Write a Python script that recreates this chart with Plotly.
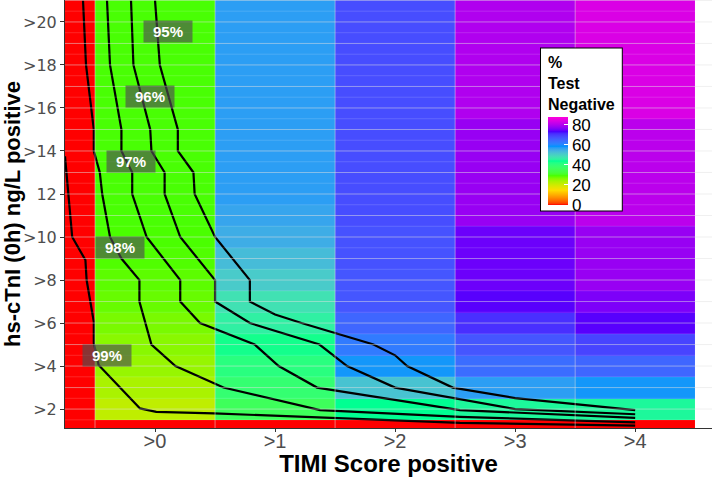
import plotly.graph_objects as go

# ---------------- data ----------------
timi = [-1, 0, 1, 2, 3, 4]
timi_labels = [">0", ">1", ">2", ">3", ">4"]
tni = list(range(1, 22))
tni_ticks = [2, 4, 6, 8, 10, 12, 14, 16, 18, 20]
tni_labels = [">2", ">4", ">6", ">8", ">10", "12", ">14", ">16", ">18", ">20"]

# % test negative, one list per TIMI column, rows hs-cTnI 1..21
neg_m1 = [0] * 21
neg_0 = [0, 21.5, 23.5, 25, 26, 27, 28, 28.5, 29, 29.3, 29.5, 29.5, 29.5, 29.5, 29.5, 29.5, 29.5, 29.5, 29.5, 29.5, 29.5]
neg_1 = [0, 36, 39, 41, 43, 46, 48, 51, 53, 55, 56, 57, 57, 57, 57, 57, 57, 57, 57, 57, 57]
neg_2 = [0, 44, 52, 58, 62, 65, 67, 67, 67.5, 67.5, 68, 68, 68, 68, 68, 68, 68, 68, 68, 68, 68]
neg_3 = [0, 45, 57, 64, 67, 71, 74, 75, 75, 75, 78, 78, 78, 78, 78, 80, 80, 80, 80, 80, 80]
neg_4 = [0, 45, 58, 65, 69, 74, 76, 78, 78, 78, 81, 81, 81, 81, 81, 84, 84, 84, 84, 84, 84]

# contour lines (sensitivity levels), vertices in data units
c95_x = [0.0, 0.04, 0.19, 0.19, 0.32, 0.33, 0.5, 0.79, 0.79, 1.0, 1.22, 1.82, 2.0, 2.1, 2.48, 3.0, 4.0]
c95_y = [21, 18, 15, 14, 13, 12, 10, 8, 7, 6.4, 6, 5, 4.5, 4, 3, 2.51, 1.95]
c96_x = [-0.2, -0.18, -0.04, -0.03, 0.08, 0.08, 0.21, 0.5, 0.5, 0.79, 1.37, 1.6, 2.0, 3.0, 4.0]
c96_y = [21, 18, 15, 14, 13, 12, 10, 8, 7, 6, 5, 4, 3, 2, 1.76]
c97_x = [-0.4, -0.375, -0.28, -0.28, -0.19, -0.19, -0.07, 0.07, 0.21, 0.21, 0.375, 0.83, 1.03, 1.35, 2.54, 4.0]
c97_y = [21, 18, 15, 14, 13, 12, 10, 9, 8, 7, 6, 5, 4, 3, 1.95, 1.59]
c98_x = [-0.6, -0.575, -0.51, -0.51, -0.46, -0.44, -0.375, -0.28, -0.13, -0.13, -0.03, 0.17, 0.57, 1.375, 2.54, 4.0]
c98_y = [21, 18, 15, 14, 13, 12, 10, 9, 8, 7, 5, 4, 3, 1.95, 1.64, 1.38]
c99_x = [-0.75, -0.72, -0.69, -0.58, -0.57, -0.51, -0.51, -0.47, -0.125, 0.01, 0.49, 2.54, 4.0]
c99_y = [13.75, 11.72, 10.0, 8.93, 8.0, 6.06, 5.06, 4.05, 2.03, 1.87, 1.8, 1.36, 1.23]

label_text = ["95%", "96%", "97%", "98%", "99%"]
label_x = [0.104, -0.046, -0.197, -0.296, -0.4]
label_y = [19.55, 16.54, 13.53, 9.51, 4.5]

# ---------------- colour scale (R rainbow(7), Lab interpolation as in ggplot) ----------------
anchors = ["#FF0000", "#FFDB00", "#49FF00", "#00FF92", "#0092FF", "#4900FF", "#FF00DB"]


def _lin(c):
    return c / 12.92 if c <= 0.04045 else ((c + 0.055) / 1.055) ** 2.4


def _gam(c):
    c = min(max(c, 0.0), 1.0)
    return 12.92 * c if c <= 0.0031308 else 1.055 * c ** (1 / 2.4) - 0.055


WX, WY, WZ = 0.95047, 1.0, 1.08883


def hex2lab(h):
    r, g, b = [_lin(int(h[i:i + 2], 16) / 255) for i in (1, 3, 5)]
    X = 0.4124 * r + 0.3576 * g + 0.1805 * b
    Y = 0.2126 * r + 0.7152 * g + 0.0722 * b
    Z = 0.0193 * r + 0.1192 * g + 0.9505 * b

    def f(t):
        return t ** (1 / 3) if t > 0.008856 else 7.787 * t + 16 / 116
    fx, fy, fz = f(X / WX), f(Y / WY), f(Z / WZ)
    return (116 * fy - 16, 500 * (fx - fy), 200 * (fy - fz))


def lab2rgb(L, a, b):
    fy = (L + 16) / 116
    fx = fy + a / 500
    fz = fy - b / 200

    def finv(t):
        return t ** 3 if t ** 3 > 0.008856 else (t - 16 / 116) / 7.787
    X, Y, Z = WX * finv(fx), WY * finv(fy), WZ * finv(fz)
    r = 3.2406 * X - 1.5372 * Y - 0.4986 * Z
    g = -0.9689 * X + 1.8758 * Y + 0.0415 * Z
    bb = 0.0557 * X - 0.2040 * Y + 1.0570 * Z
    return "rgb(%d,%d,%d)" % tuple(round(_gam(v) * 255) for v in (r, g, bb))


labs = [hex2lab(h) for h in anchors]
colorscale = []
nstep = 60
for i in range(nstep + 1):
    t = i / nstep
    pos = t * (len(labs) - 1)
    k = min(int(pos), len(labs) - 2)
    u = pos - k
    L = labs[k][0] + (labs[k + 1][0] - labs[k][0]) * u
    A = labs[k][1] + (labs[k + 1][1] - labs[k][1]) * u
    B = labs[k][2] + (labs[k + 1][2] - labs[k][2]) * u
    colorscale.append([t, lab2rgb(L, A, B)])

# ---------------- figure ----------------
z = [list(r) for r in zip(neg_m1, neg_0, neg_1, neg_2, neg_3, neg_4)]

fig = go.Figure()
fig.add_trace(go.Heatmap(
    x=timi, y=tni, z=z, zmin=0, zmax=88, colorscale=colorscale,
    hoverinfo="skip",
    colorbar=dict(
        title=dict(text="<b>%<br>Test<br>Negative</b>", side="top",
                   font=dict(family="Liberation Sans, Arial", size=16, color="black")),
        tickvals=[0, 20, 40, 60, 80], ticks="inside", tickcolor="white", ticklen=4,
        tickfont=dict(family="Liberation Sans, Arial", size=17, color="black"),
        thickness=20, lenmode="pixels", len=162,
        x=0.7357, xanchor="left", y=0.888, yanchor="top",
        xpad=7, ypad=5, outlinewidth=0,
        bgcolor="white", bordercolor="black", borderwidth=1,
    ),
))

for xs, ys in [(c95_x, c95_y), (c96_x, c96_y), (c97_x, c97_y), (c98_x, c98_y), (c99_x, c99_y)]:
    fig.add_trace(go.Scatter(x=xs, y=ys, mode="lines", line=dict(color="black", width=2.2),
                             hoverinfo="skip", showlegend=False))

shapes = []
grid_col = "rgba(225,225,225,0.5)"
for yv in tni:
    shapes.append(dict(type="line", xref="paper", yref="y", x0=0, x1=1, y0=yv, y1=yv,
                       line=dict(color=grid_col, width=1), layer="above"))
for yv in tni:
    shapes.append(dict(type="line", xref="x", yref="y", x0=-0.75, x1=4.5, y0=yv + 0.5, y1=yv + 0.5,
                       line=dict(color="rgba(255,255,255,0.15)", width=1), layer="above"))
for xv in timi[:-1]:
    shapes.append(dict(type="line", xref="x", yref="paper", x0=xv + 0.5, x1=xv + 0.5, y0=0, y1=1,
                       line=dict(color=grid_col, width=1), layer="above"))

annotations = []
for t, xv, yv in zip(label_text, label_x, label_y):
    annotations.append(dict(x=xv, y=yv, xref="x", yref="y", text="<b>%s</b>" % t, showarrow=False,
                            font=dict(family="Liberation Sans, Arial", size=15, color="white"),
                            bgcolor="rgba(79,79,79,0.66)", width=46, height=19, borderpad=1))

fig.update_layout(
    width=714, height=477,
    margin=dict(l=65, r=2, t=0, b=49, autoexpand=False),
    plot_bgcolor="white", paper_bgcolor="white",
    shapes=shapes, annotations=annotations,
    showlegend=False,
    xaxis=dict(range=[-0.75, 4.64], tickvals=[0, 1, 2, 3, 4], ticktext=timi_labels,
               showgrid=False, zeroline=False, showline=True, linecolor="#333333", linewidth=1,
               ticks="outside", ticklen=3, tickcolor="#333333", automargin=False,
               ticklabelstandoff=-8,
               tickfont=dict(family="Liberation Sans, Arial", size=20, color="#4d4d4d"),
               title=dict(text="<b>TIMI Score positive</b>", standoff=6,
                          font=dict(family="Liberation Sans, Arial", size=24, color="black"))),
    yaxis=dict(range=[1.12, 21.02], tickvals=tni_ticks, ticktext=tni_labels,
               showgrid=False, zeroline=False, showline=True, linecolor="#333333", linewidth=1,
               ticks="outside", ticklen=4, tickcolor="#333333", automargin=False,
               tickfont=dict(family="DejaVu Sans", size=16, color="#4d4d4d"),
               title=dict(text="<b>hs-cTnI (0h) ng/L positive</b>", standoff=5,
                          font=dict(family="Liberation Sans, Arial", size=22, color="black"))),
)

fig.write_html("out.html", config={"displayModeBar": False},
               post_script="document.body.style.margin='0';")
